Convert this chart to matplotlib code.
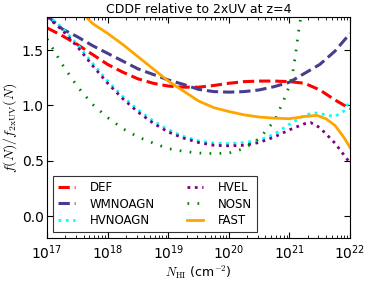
import matplotlib
matplotlib.use("Agg")
import matplotlib.pyplot as plt
import numpy as np

plt.rcParams["mathtext.fontset"] = "cm"

# log10(N_HI) and ratio values
def_logn = [17.0, 17.25, 17.5, 17.75, 18.0, 18.25, 18.5, 18.75, 19.0, 19.25, 19.5,
            19.75, 20.0, 20.25, 20.5, 20.75, 21.0, 21.25, 21.5, 21.75, 22.0]
def_ratio = [1.70, 1.63, 1.55, 1.46, 1.37, 1.30, 1.24, 1.20, 1.175, 1.165, 1.165,
             1.18, 1.20, 1.215, 1.22, 1.22, 1.215, 1.20, 1.14, 1.05, 0.97]

wm_logn = def_logn
wm_ratio = [1.81, 1.69, 1.62, 1.54, 1.47, 1.40, 1.33, 1.28, 1.23, 1.19, 1.145,
            1.125, 1.12, 1.125, 1.14, 1.17, 1.21, 1.29, 1.37, 1.49, 1.65]

hvno_logn = [17.0, 17.25, 17.5, 17.75, 18.0, 18.25, 18.5, 18.75, 19.0, 19.25, 19.5,
             19.75, 20.0, 20.25, 20.5, 20.75, 21.0, 21.25, 21.4, 21.5, 21.75, 21.9, 22.0]
hvno_ratio = [1.82, 1.70, 1.55, 1.38, 1.22, 1.08, 0.96, 0.86, 0.78, 0.72, 0.68,
              0.66, 0.655, 0.665, 0.685, 0.74, 0.83, 0.91, 0.935, 0.925, 0.90, 0.95, 1.05]

hvel_logn = [17.0, 17.25, 17.5, 17.75, 18.0, 18.25, 18.5, 18.75, 19.0, 19.25, 19.5,
             19.75, 20.0, 20.25, 20.5, 20.75, 21.0, 21.25, 21.35, 21.5, 21.75, 22.0]
hvel_ratio = [1.80, 1.68, 1.53, 1.36, 1.20, 1.06, 0.94, 0.84, 0.76, 0.705, 0.665,
              0.64, 0.635, 0.64, 0.665, 0.715, 0.78, 0.835, 0.845, 0.80, 0.66, 0.48]

nosn_logn = [17.0, 17.25, 17.5, 17.75, 18.0, 18.25, 18.5, 18.75, 19.0, 19.25, 19.5,
             19.75, 20.0, 20.25, 20.5, 20.75, 20.9, 21.0, 21.05, 21.1, 21.15, 21.2]
nosn_ratio = [1.60, 1.37, 1.17, 1.01, 0.89, 0.79, 0.715, 0.66, 0.61, 0.585, 0.57,
              0.565, 0.57, 0.61, 0.70, 0.86, 1.04, 1.18, 1.28, 1.46, 1.67, 1.84]

fast_logn = [17.5, 17.75, 18.0, 18.25, 18.5, 18.75, 19.0, 19.25, 19.5, 19.75, 20.0,
             20.25, 20.5, 20.75, 21.0, 21.25, 21.45, 21.6, 21.75, 21.9, 22.0]
fast_ratio = [1.88, 1.74, 1.65, 1.55, 1.44, 1.33, 1.22, 1.13, 1.04, 0.98, 0.945,
              0.915, 0.895, 0.885, 0.88, 0.90, 0.91, 0.88, 0.82, 0.71, 0.62]

fig = plt.figure(figsize=(3.74, 2.81), dpi=100)
ax = fig.add_axes([0.126, 0.152, 0.81, 0.788])

ax.plot(10 ** np.array(def_logn), def_ratio, "--", color="red", lw=2.2, label="DEF")
ax.plot(10 ** np.array(wm_logn), wm_ratio, "--", color="darkslateblue", lw=2.2, label="WMNOAGN")
ax.plot(10 ** np.array(hvno_logn), hvno_ratio, ":", color="cyan", lw=2, label="HVNOAGN")
ax.plot(10 ** np.array(hvel_logn), hvel_ratio, ":", color="purple", lw=2, label="HVEL")
ax.plot(10 ** np.array(nosn_logn), nosn_ratio, "-.", color="green", lw=2,
        dashes=(0.6, 3, 0.6, 3), label="NOSN")
ax.plot(10 ** np.array(fast_logn), fast_ratio, "-", color="orange", lw=2, label="FAST")

ax.set_xscale("log")
ax.set_xlim(1e17, 1e22)
ax.set_ylim(-0.2, 1.8)
ax.set_yticks([0.0, 0.5, 1.0, 1.5])
ax.tick_params(which="both", direction="in", top=True, right=True, labelsize=10)
ax.tick_params(which="major", length=4)
ax.tick_params(which="minor", length=2)
ax.tick_params(axis="y", pad=2.5)
ax.tick_params(axis="x", pad=4)
ax.set_title("CDDF relative to 2xUV at z=4", fontsize=9, pad=3)
ax.set_xlabel(r"$N_\mathrm{HI}$ (cm$^{-2}$)", fontsize=9, labelpad=1)
ax.set_ylabel(r"$f(N) / f_\mathrm{2xUV}(N)$", fontsize=10, labelpad=2)
leg = ax.legend(loc="lower left", ncol=2, fontsize=8.5, fancybox=False,
                edgecolor="black", handlelength=1.4, columnspacing=2.7,
                borderaxespad=0.5, labelspacing=0.3, handletextpad=1.25,
                borderpad=0.45)
leg.get_frame().set_linewidth(0.8)

fig.savefig("out.png", dpi=100)
